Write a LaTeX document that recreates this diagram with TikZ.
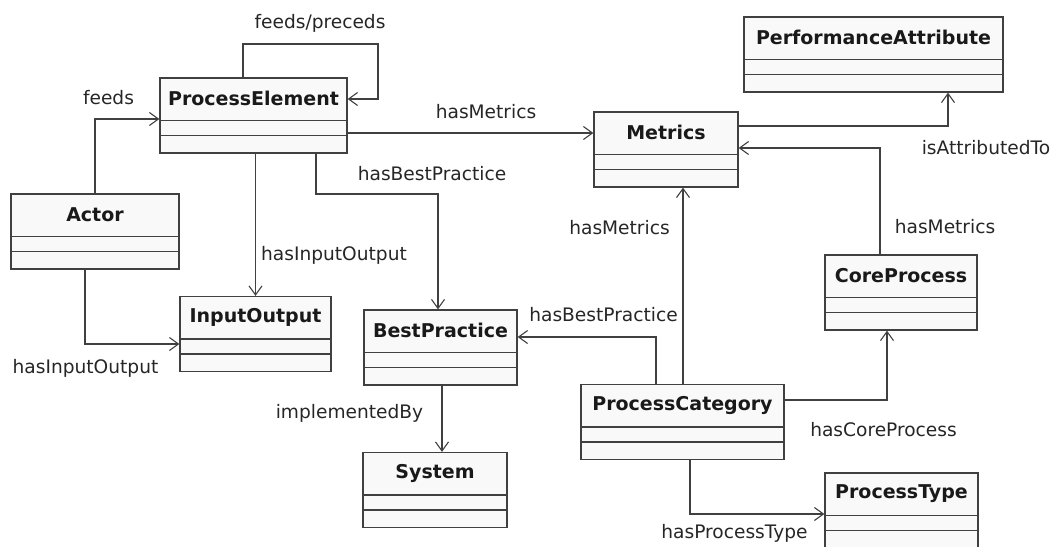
\documentclass[tikz,border=0pt]{standalone}
\usepackage{fontspec}
\setmainfont{DejaVu Sans}
\usetikzlibrary{arrows.meta}
\definecolor{boxfill}{HTML}{F9F9F9}
\definecolor{linegray}{HTML}{404040}
\tikzset{
  classbox/.style={draw=linegray, line width=1.3pt, fill=boxfill, minimum height=75pt, inner sep=0pt},
  classtitle/.style={font=\fontsize{19}{22}\selectfont\bfseries, text=black!90, inner sep=0pt},
  divider/.style={draw=linegray, line width=1.3pt},
  assoc/.style={draw=linegray, line width=1.1pt, -{Straight Barb[length=9pt,width=13pt]}},
  role/.style={font=\fontsize{18.6}{22}\selectfont, text=black!85, inner sep=0pt}
}
% class box: name, centre, width, title
\newcommand{\umlclass}[4]{%
  \node [classbox, minimum width=#3pt] (#1) at (#2) {};
  \node [classtitle] (#1-name) at ([yshift=-21.5pt]#1.north) {#4};
  \draw [divider] ([yshift=-43pt]#1.north west) -- ([yshift=-43pt]#1.north east);
  \draw [divider] ([yshift=-58pt]#1.north west) -- ([yshift=-58pt]#1.north east);
}
\begin{document}
\begin{tikzpicture}[x=1pt,y=-1pt]
 \useasboundingbox (0,0) rectangle (1054,546);
 \umlclass{pe}{253.5,115.5}{187}{ProcessElement}
 \umlclass{pa}{873.5,54.5}{259}{PerformanceAttribute}
 \umlclass{metrics}{666,149.5}{144}{Metrics}
 \umlclass{actor}{95,231.5}{168}{Actor}
 \umlclass{io}{255.5,334}{151}{InputOutput}
 \umlclass{bp}{440.5,347.5}{153}{BestPractice}
 \umlclass{cp}{901,292.5}{152}{CoreProcess}
 \umlclass{pc}{682.5,422}{203}{ProcessCategory}
 \umlclass{system}{435,490}{144}{System}
 \umlclass{pt}{901.5,510.5}{153}{ProcessType}
 % associations
 \draw [assoc] (actor) |- ([yshift=-3.5pt]pe.west);
 \draw [assoc] ([xshift=-10.5pt]pe.north) |- (378,44) |- ([yshift=16.5pt]pe.east);
 \draw [assoc] ([yshift=-17.5pt]pe.east) -- ([yshift=-17.5pt]pe.east -| metrics.west);
 \draw [assoc] (pe.south -| io.north) -- (io.north);
 \draw [assoc] ([xshift=62.5pt]pe.south) |- (400,194) -| ([xshift=-2.5pt]bp.north);
 \draw [assoc] ([xshift=-10pt]actor.south) |- ([yshift=-10pt]io.west);
 \draw [assoc] ([yshift=23.5pt]metrics.east) -| ([xshift=74.5pt]pa.south);
 \draw [assoc] ([xshift=-21pt]cp.north) |- ([yshift=1.5pt]metrics.east);
 \draw [assoc] ([xshift=0.5pt]pc.north) -- ([xshift=0.5pt]pc.north |- metrics.south);
 \draw [assoc] ([xshift=-26.5pt]pc.north) |- ([yshift=10.5pt]bp.east);
 \draw [assoc] ([xshift=1.5pt]bp.south) -- ([xshift=1.5pt]bp.south |- system.north);
 \draw [assoc] ([yshift=22pt]pc.east) -| ([xshift=-14pt]cp.south);
 \draw [assoc] ([xshift=7.5pt]pc.south) |- ([yshift=-3.5pt]pt.west);
 % role names
 \node [role] (feedsloop) at (320,23) {feeds/preceds};
 \node [role] (feeds) at (108.5,98) {feeds};
 \node [role] (pemetrics) at (486,112) {hasMetrics};
 \node [role] (pebest) at (432,174) {hasBestPractice};
 \node [role] (peio) at (334,255) {hasInputOutput};
 \node [role] (actorio) at (85.5,368) {hasInputOutput};
 \node [role] (attr) at (986,148) {isAttributedTo};
 \node [role] (cpmetrics) at (945,227) {hasMetrics};
 \node [role] (pcmetrics) at (619.5,228) {hasMetrics};
 \node [role] (pcbest) at (603.5,315) {hasBestPractice};
 \node [role] (impl) at (349.5,413) {implementedBy};
 \node [role] (pccore) at (883.5,430) {hasCoreProcess};
 \node [role] (pctype) at (734.5,533) {hasProcessType};
\end{tikzpicture}
\end{document}
